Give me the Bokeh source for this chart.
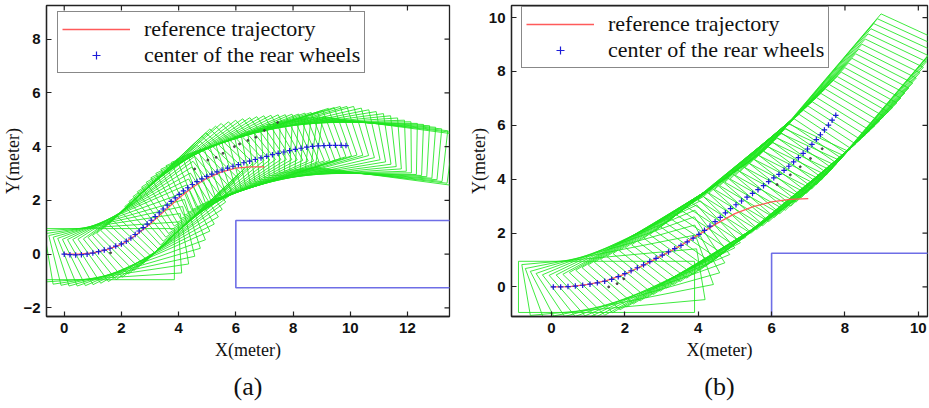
import numpy as np
from bokeh.plotting import figure
from bokeh.layouts import row
from bokeh.models import Range1d, Legend, LegendItem, Title, FixedTicker
from bokeh.embed import file_html
from bokeh.resources import INLINE

# ---------------- data ----------------
# panel (a): centre of the rear wheels (x, y) and vehicle heading (deg)
xa = [0.00, 0.20, 0.40, 0.60, 0.80, 1.00, 1.20, 1.40, 1.60, 1.80, 2.00, 2.17, 2.33, 2.48,
      2.62, 2.76, 2.90, 3.04, 3.18, 3.32, 3.46, 3.60, 3.74, 3.88, 4.02, 4.17, 4.32, 4.48,
      4.64, 4.81, 4.98, 5.16, 5.34, 5.52, 5.71, 5.90, 6.09, 6.28, 6.48, 6.68, 6.88, 7.08,
      7.28, 7.48, 7.68, 7.88, 8.08, 8.28, 8.48, 8.68, 8.88, 9.08, 9.28, 9.48, 9.68, 9.85]
ya = [0.00, -0.02, -0.03, -0.02, 0.00, 0.04, 0.09, 0.15, 0.22, 0.30, 0.38, 0.48, 0.60, 0.73,
      0.86, 0.99, 1.12, 1.26, 1.40, 1.54, 1.68, 1.82, 1.96, 2.09, 2.22, 2.35, 2.47, 2.59,
      2.70, 2.80, 2.89, 2.98, 3.06, 3.13, 3.20, 3.27, 3.33, 3.40, 3.46, 3.52, 3.58, 3.64,
      3.70, 3.75, 3.80, 3.85, 3.90, 3.94, 3.98, 4.01, 4.03, 4.04, 4.05, 4.05, 4.05, 4.04]
ha = [0, 4, 9, 13, 17, 21, 25, 28, 31, 34, 37, 39, 41, 43,
      44, 45, 45, 45, 44, 43, 41, 39, 37, 35, 33, 31, 29, 27,
      25, 23.5, 22, 21, 20, 19, 19, 19, 18.5, 18, 17, 16, 14, 12,
      10, 8, 6, 4, 2, 0.5, -1, -2, -3, -4, -5, -6, -7, -8]
ref_xa = [0.0, 0.5, 1.0, 1.5, 2.0, 2.5, 3.0, 3.5, 4.0, 4.5, 5.0, 5.5, 6.0, 6.5, 7.0]
ref_ya = [0.0, 0.0, 0.05, 0.17, 0.36, 0.70, 1.12, 1.60, 2.08, 2.50, 2.83, 3.06, 3.20, 3.25, 3.25]
dot_xa = [1.62, 4.56, 5.02, 5.31, 5.55, 5.95, 6.13, 6.42, 6.70, 7.00, 7.46]
dot_ya = [0.05, 3.17, 3.50, 3.60, 3.75, 4.00, 4.10, 4.23, 4.35, 4.60, 4.90]

# panel (b)
xb = [0.05, 0.25, 0.45, 0.65, 0.85, 1.05, 1.25, 1.45, 1.64, 1.82, 2.00, 2.17, 2.34, 2.51,
      2.68, 2.85, 3.02, 3.19, 3.36, 3.53, 3.70, 3.86, 4.02, 4.17, 4.32, 4.46, 4.60, 4.74,
      4.88, 5.03, 5.18, 5.33, 5.48, 5.63, 5.78, 5.92, 6.06, 6.20, 6.34, 6.47, 6.60, 6.73,
      6.86, 6.98, 7.10, 7.22, 7.33, 7.44, 7.55, 7.65, 7.75]
yb = [0.00, 0.00, 0.01, 0.03, 0.06, 0.10, 0.15, 0.21, 0.28, 0.38, 0.49, 0.60, 0.71, 0.82,
      0.94, 1.06, 1.18, 1.30, 1.42, 1.54, 1.67, 1.81, 1.95, 2.10, 2.26, 2.42, 2.58, 2.75,
      2.91, 3.05, 3.19, 3.33, 3.47, 3.61, 3.76, 3.91, 4.05, 4.18, 4.33, 4.48, 4.64, 4.80,
      4.96, 5.12, 5.29, 5.47, 5.65, 5.83, 6.01, 6.19, 6.37]
hb = [0, 7, 15, 21, 26, 30, 33, 35, 37, 38.5, 39.5, 40, 40.5, 41,
      41.5, 42, 42.5, 43, 43.5, 44, 44.5, 45, 45.5, 46, 46.5, 47, 47.5, 48,
      48, 48.5, 49, 49.5, 50, 50.5, 51, 51.5, 52, 52.5, 53, 53.5, 54, 54.5,
      55, 55.5, 56, 56.5, 57, 57.5, 58, 58, 58]
ref_xb = [0.0, 0.5, 1.0, 1.5, 2.0, 2.5, 3.0, 3.5, 4.0, 4.5, 5.0, 5.5, 6.0, 6.5, 7.0]
ref_yb = [0.0, 0.01, 0.09, 0.23, 0.47, 0.80, 1.15, 1.52, 1.93, 2.35, 2.72, 2.98, 3.16, 3.25, 3.28]
dot_xb = [1.56, 1.79, 1.97, 6.15, 6.51, 6.78, 7.06, 7.38]
dot_yb = [0.00, 0.12, 0.30, 3.80, 4.16, 4.46, 4.77, 5.13]

# obstacle (parking slot border) and vehicle size, metres
obstacle_x = [20.0, 6.0, 6.0, 20.0]
obstacle_y = [1.25, 1.25, -1.25, -1.25]
CAR_REAR, CAR_FRONT, CAR_HALF_W = 0.95, 3.85, 0.95

x_ticks_a = [0, 2, 4, 6, 8, 10, 12]
y_ticks_a = [-2, 0, 2, 4, 6, 8]
x_ticks_b = [0, 2, 4, 6, 8, 10]
y_ticks_b = [0, 2, 4, 6, 8, 10]

GREEN = "#1ee61e"
BLUE = "#1c1cd8"
RED = "#ff5a5a"
OBST = "#6e6ee6"
INK = "#222222"


def footprints(xs, ys, hdeg):
    local = [(-CAR_REAR, -CAR_HALF_W), (CAR_FRONT, -CAR_HALF_W),
             (CAR_FRONT, CAR_HALF_W), (-CAR_REAR, CAR_HALF_W), (-CAR_REAR, -CAR_HALF_W)]
    fx, fy = [], []
    for x, y, h in zip(xs, ys, hdeg):
        c, s = np.cos(np.radians(h)), np.sin(np.radians(h))
        fx.append([x + lx * c - ly * s for lx, ly in local])
        fy.append([y + lx * s + ly * c for lx, ly in local])
    return fx, fy


def style_axis(ax, ticks):
    ax.ticker = FixedTicker(ticks=ticks)
    ax.major_tick_in = 5
    ax.major_tick_out = 0
    ax.minor_tick_line_color = None
    ax.axis_line_color = INK
    ax.axis_line_width = 1.3
    ax.major_tick_line_color = INK
    ax.major_tick_line_width = 1.2
    ax.major_label_text_font = "Liberation Sans"
    ax.major_label_text_font_style = "bold"
    ax.major_label_text_font_size = "15px"
    ax.major_label_text_color = "#111111"
    ax.major_label_standoff = 6
    ax.axis_label_text_font = "Liberation Serif"
    ax.axis_label_text_font_size = "18px"
    ax.axis_label_text_font_style = "normal"
    ax.axis_label_text_color = "#111111"


def panel(W, xr, yr, borders, xs, ys, hs, rx, ry, dx, dy, xt, yt, caption, legend_loc):
    p = figure(width=W, height=408, x_range=Range1d(*xr), y_range=Range1d(*yr),
               output_backend="svg", toolbar_location=None,
               min_border_left=borders[0], min_border_right=borders[1],
               min_border_top=borders[2], min_border_bottom=borders[3])
    p.grid.visible = False
    p.outline_line_color = INK
    p.outline_line_width = 1.3
    p.background_fill_color = "white"
    p.border_fill_color = "white"

    fx, fy = footprints(xs, ys, hs)
    p.multi_line(fx, fy, line_color=GREEN, line_width=0.9, line_alpha=0.95)
    p.line(obstacle_x, obstacle_y, line_color=OBST, line_width=1.6)
    r_ref = p.line(rx, ry, line_color=RED, line_width=1.3)
    p.scatter(dx, dy, marker="circle", size=2.0, color="#3a3a3a", alpha=0.85)
    r_pts = p.scatter(xs, ys, marker="cross", size=5.5, line_width=1.2, color=BLUE)

    # inward tick marks on the top and right edges of the box
    p.scatter(xt, [yr[1]] * len(xt), marker="dash", angle=np.pi / 2, size=10,
              line_color=INK, line_width=1.2)
    p.scatter([xr[1]] * len(yt), yt, marker="dash", size=10, line_color=INK, line_width=1.2)

    style_axis(p.xaxis[0], xt)
    style_axis(p.yaxis[0], yt)
    p.xaxis.axis_label = "X(meter)"
    p.yaxis.axis_label = "Y(meter)"
    p.xaxis.axis_label_standoff = 4
    p.yaxis.axis_label_standoff = -3

    leg = Legend(items=[LegendItem(label="reference trajectory", renderers=[r_ref]),
                        LegendItem(label="center of the rear wheels", renderers=[r_pts])],
                 location=legend_loc)
    leg.label_text_font = "Liberation Serif"
    leg.label_text_font_size = "22px"
    leg.label_text_color = "#111111"
    leg.glyph_width = 68
    leg.glyph_height = 20
    leg.label_standoff = 14
    leg.label_height = 20
    leg.spacing = 0
    leg.padding = 4
    leg.margin = 0
    leg.border_line_color = "#111111"
    leg.border_line_width = 1.6
    leg.background_fill_alpha = 1.0
    p.add_layout(leg)

    cap = Title(text=caption, align="center", text_font="Liberation Serif",
                text_font_size="26px", text_font_style="normal", text_color="#111111",
                standoff=15)
    p.add_layout(cap, "below")
    return p


pa = panel(465, (-0.62, 13.47), (-2.32, 9.25), (45, 16, 5, 92),
           xa, ya, ha, ref_xa, ref_ya, dot_xa, dot_ya, x_ticks_a, y_ticks_a,
           "(a)", (11, 243))
pb = panel(464, (-1.09, 10.25), (-1.10, 10.45), (46, 2, 5, 88),
           xb, yb, hb, ref_xb, ref_yb, dot_xb, dot_yb, x_ticks_b, y_ticks_b,
           "(b)", (10, 248))

layout = row(pa, pb)
open("out.html", "w").write(file_html(layout, INLINE))
